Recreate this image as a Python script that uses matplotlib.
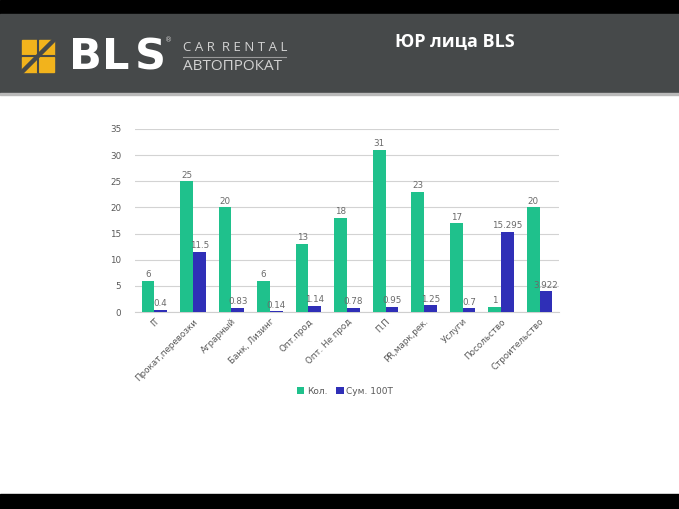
import matplotlib
matplotlib.use("Agg")
import matplotlib.pyplot as plt
import matplotlib.patches as mpatches
import numpy as np

# chart data
categories = ["IT", "Прокат,перевозки", "Аграрный", "Банк, Лизинг", "Опт.прод",
              "Опт. Не прод", "П.П", "PR,марк,рек.", "Услуги", "Посольство",
              "Строительство"]
count = [6, 25, 20, 6, 13, 18, 31, 23, 17, 1, 20]
amount = [0.4, 11.5, 0.83, 0.14, 1.14, 0.78, 0.95, 1.25, 0.7, 15.295, 3.922]
amount_labels = ["0.4", "11.5", "0.83", "0.14", "1.14", "0.78", "0.95", "1.25",
                 "0.7", "15.295", "3.922"]
series_names = ["Кол.", "Сум. 100Т"]

W, H = 679, 509
fig = plt.figure(figsize=(W / 100, H / 100), dpi=100)
fig.patch.set_facecolor("white")

# page decoration: black strips, grey header
bg = fig.add_axes([0, 0, 1, 1])
bg.set_xlim(0, W)
bg.set_ylim(H, 0)
bg.axis("off")
bg.add_patch(mpatches.Rectangle((0, 0), W, 14, color="black"))
bg.add_patch(mpatches.Rectangle((0, 14), W, 79, color="#46494a"))
bg.add_patch(mpatches.Rectangle((0, 93), W, 2, color="#b9b9b9"))
bg.add_patch(mpatches.Rectangle((0, 494), W, 15, color="black"))

# logo
yellow = "#f2b31c"
for (x0, y0) in [(22, 40), (39, 40), (22, 57), (39, 57)]:
    bg.add_patch(mpatches.Rectangle((x0, y0), 15, 15, color=yellow))
bg.plot([22, 54], [72, 40], color="#46494a", lw=3.2)
bg.plot([37.5, 37.5], [40, 72], color="#46494a", lw=1.5)
bg.plot([22, 54], [56, 56], color="#46494a", lw=1.5)
# "BLS" spread out letter by letter to match the wide logotype
for ch, cx in zip("BLS", [85, 116, 150]):
    bg.text(cx, 57, ch, color="white", fontsize=31, fontweight="heavy",
            family="DejaVu Sans", va="center", ha="center")
bg.text(165, 40, "®", color="#d0d0d0", fontsize=5, va="center")
bg.text(183, 47, "C A R  R E N T A L", color="#d2d2d2", fontsize=9.5,
        va="center", family="Open Sans")
bg.plot([183, 286], [56.5, 56.5], color="#9a9a9a", lw=0.8)
bg.text(183, 66, "АВТОПРОКАТ", color="#d2d2d2", fontsize=11, va="center",
        family="Open Sans")
bg.text(395, 42, "ЮР лица BLS", color="white", fontsize=13, fontweight="bold",
        family="Open Sans", va="center", ha="left")

# bar chart
ax = fig.add_axes([135 / W, 1 - 312 / H, 424 / W, 183 / H])
x = np.arange(len(categories))
bw = 0.33
green = "#1fc18c"
blue = "#2f2fb7"
b1 = ax.bar(x - bw / 2, count, bw, color=green, label=series_names[0], zorder=3)
b2 = ax.bar(x + bw / 2, amount, bw, color=blue, label=series_names[1], zorder=3)

lab_col = "#6a6a6a"
for i, v in enumerate(count):
    ax.text(x[i] - bw / 2, v + 0.3, str(v), ha="center", va="bottom",
            fontsize=6.3, color=lab_col)
for i, v in enumerate(amount):
    ax.text(x[i] + bw / 2, v + 0.3, amount_labels[i], ha="center", va="bottom",
            fontsize=6.3, color=lab_col)

ax.set_xlim(-0.5, len(categories) - 0.5)
ax.set_ylim(0, 35)
ax.set_yticks(range(0, 36, 5))
ax.yaxis.grid(True, color="#d3d3d3", lw=0.8, zorder=0)
for s in ["top", "right", "left"]:
    ax.spines[s].set_visible(False)
ax.spines["bottom"].set_color("#cfcfcf")
ax.tick_params(axis="both", length=0, labelsize=6.3, labelcolor="#595959")
ax.tick_params(axis="y", pad=10)
ax.set_xticks(x)
ax.set_xticklabels(categories, rotation=45, ha="right", rotation_mode="anchor")
ax.set_facecolor("white")

fig.legend(handles=[b1, b2], loc="center", bbox_to_anchor=(345 / W, 1 - 391 / H),
           ncol=2, frameon=False, fontsize=6.5, handlelength=0.8,
           handleheight=0.8, handletextpad=0.3, columnspacing=1.0,
           labelcolor="#595959")

fig.savefig("out.png", dpi=100)
